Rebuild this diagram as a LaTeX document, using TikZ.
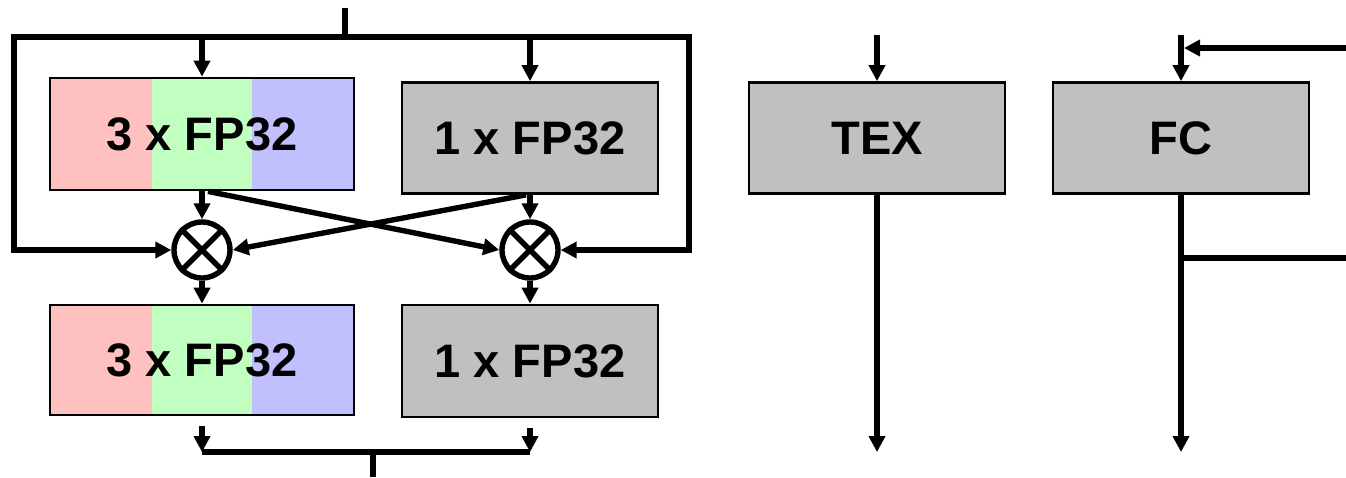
\documentclass[tikz,border=0pt]{standalone}
\usepackage{fontspec}
\setmainfont{Liberation Sans}
\usetikzlibrary{arrows.meta}
\definecolor{lred}{RGB}{255,192,192}
\definecolor{lgreen}{RGB}{192,255,192}
\definecolor{lblue}{RGB}{192,192,255}
\definecolor{lgray}{RGB}{192,192,192}
\begin{document}
\begin{tikzpicture}[x=1pt,y=-1pt,
  wire/.style={line width=5.4pt},
  tip/.tip={Triangle[width=16pt,length=16pt]},
  arr/.style={wire,-tip},
  blk/.style={draw,line width=2.8pt,inner sep=0pt,
    font=\fontsize{47}{52}\selectfont\bfseries},
  mult/.style={circle,draw,line width=5.4pt,minimum size=56pt,inner sep=0pt}]
\path[use as bounding box] (0,0) rectangle (1346,477);

% colored fills
\fill[lred]   (50,78) rectangle (152,190);
\fill[lgreen] (152,78) rectangle (252,190);
\fill[lblue]  (252,78) rectangle (354,190);
\fill[lred]   (50,305) rectangle (152,415);
\fill[lgreen] (152,305) rectangle (252,415);
\fill[lblue]  (252,305) rectangle (354,415);

% blocks
\node[blk,minimum width=304pt,minimum height=112pt] (A1) at (202,134) {3 x FP32};
\node[blk,fill=lgray,minimum width=256pt,minimum height=111pt] (B1) at (530,138) {1 x FP32};
\node[blk,minimum width=304pt,minimum height=110pt] (A2) at (202,360) {3 x FP32};
\node[blk,fill=lgray,minimum width=256pt,minimum height=112pt] (B2) at (530,361) {1 x FP32};
\node[blk,fill=lgray,minimum width=256pt,minimum height=111pt] (T) at (877,138) {TEX};
\node[blk,fill=lgray,minimum width=256pt,minimum height=111pt] (F) at (1181,138) {FC};

% multipliers
\node[mult] (M1) at (202,250) {};
\node[mult] (M2) at (530,250) {};
\draw[wire] (M1.north west) -- (M1.south east) (M1.north east) -- (M1.south west);
\draw[wire] (M2.north west) -- (M2.south east) (M2.north east) -- (M2.south west);

% input bus
\coordinate (top) at (345,8);
\coordinate (busL) at (14,37);
\coordinate (busR) at (689,37);
\draw[wire] (top) -- (top |- busL);
\draw[wire,tip-tip] (M1.west) -- (busL |- M1) -- (busL) -- (busR) -- (busR |- M2) -- (M2.east);
\draw[arr] (A1.north |- busL) -- (A1.north);
\draw[arr] (B1.north |- busR) -- (B1.north);

% into multipliers
\draw[arr] (A1.south) -- (M1.north);
\draw[arr] (B1.south) -- (M2.north);
\draw[arr] ([xshift=6pt]A1.south) -- (M2.west);
\draw[arr] ([xshift=-4pt]B1.south) -- (M1.east);

% out of multipliers
\draw[arr] (M1.south) -- (A2.north);
\draw[arr] (M2.south) -- (B2.north);

% output bus
\coordinate (j1) at (202,452);
\coordinate (j2) at (530,452);
\coordinate (jm) at (373,452);
\coordinate (bot) at (373,477);
\draw[arr] ([yshift=-10pt]A2.south) -- (j1);
\draw[arr] ([yshift=-10pt]B2.south) -- (j2);
\draw[wire] (j1) -- (j2);
\draw[wire] (jm) -- (bot);

% TEX
\coordinate (tin) at (877,35);
\coordinate (tout) at (877,452);
\draw[arr] (tin) -- (T.north);
\draw[arr] (T.south) -- (tout);

% FC
\coordinate (fin) at (1181,35);
\coordinate (fr) at (1346,48);
\coordinate (fj) at (1184,48);
\coordinate (fout) at (1181,452);
\coordinate (fb) at (1181,258);
\coordinate (fbr) at (1346,258);
\draw[arr] (fin) -- (F.north);
\draw[arr] (fr) -- (fj);
\draw[arr] (F.south) -- (fout);
\draw[wire] (fb) -- (fbr);
\end{tikzpicture}
\end{document}
